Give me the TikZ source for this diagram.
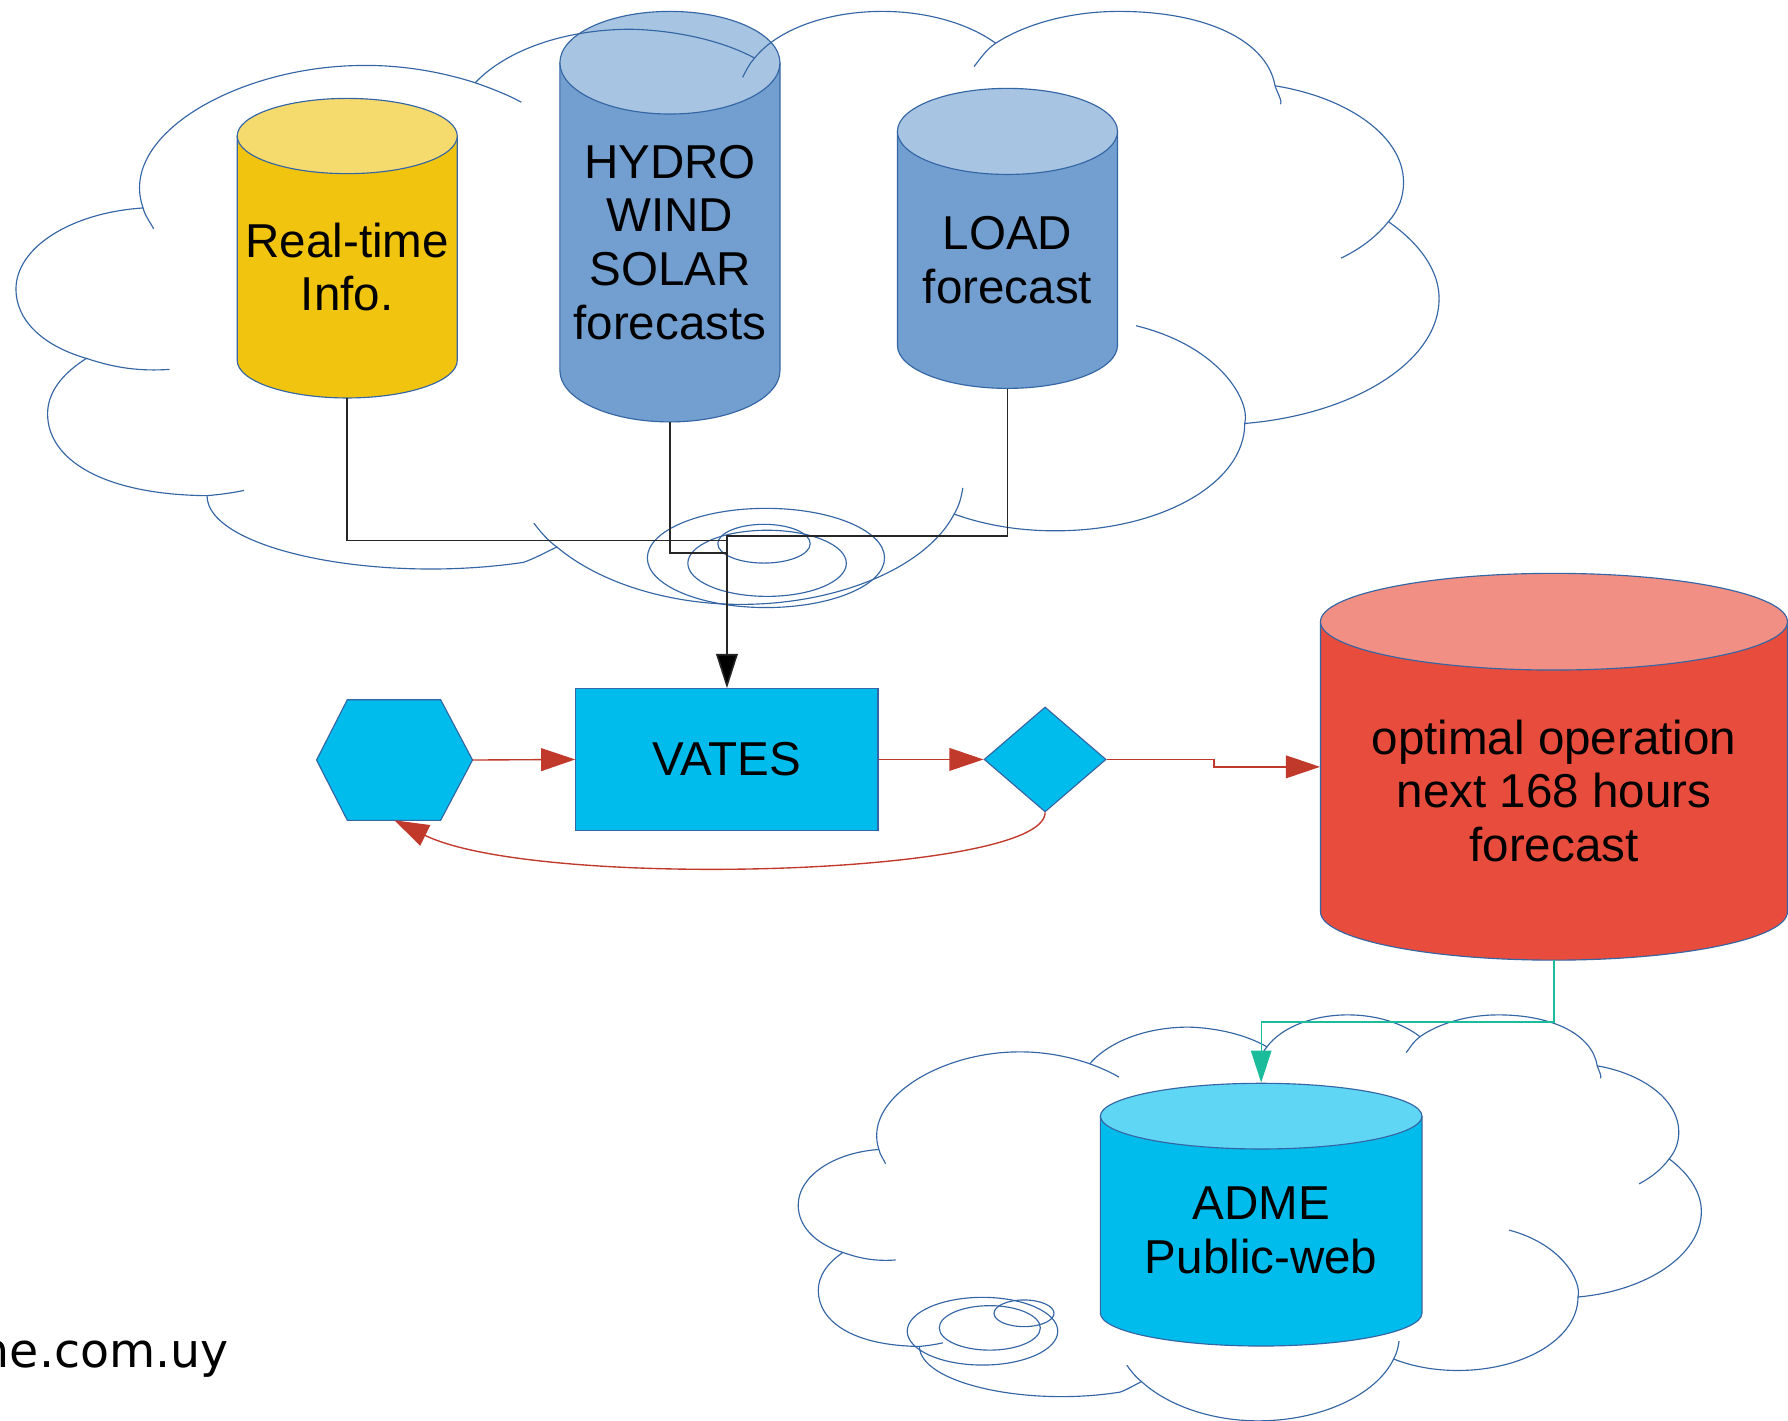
\documentclass[tikz,border=0pt]{standalone}
\usepackage{fontspec}
\setmainfont{Liberation Sans}
\newfontfamily\dejavu{DejaVu Sans}
\usetikzlibrary{arrows.meta,calc,shapes.geometric}
\definecolor{outl}{RGB}{52,101,164}
\definecolor{ylw}{RGB}{241,196,15}
\definecolor{ylwtop}{RGB}{245,218,110}
\definecolor{blu}{RGB}{114,159,207}
\definecolor{blutop}{RGB}{167,196,226}
\definecolor{redbody}{RGB}{231,76,60}
\definecolor{redtop}{RGB}{241,143,132}
\definecolor{cyn}{RGB}{0,188,236}
\definecolor{cyntop}{RGB}{96,214,245}
\definecolor{arrred}{RGB}{192,57,43}
\definecolor{tealc}{RGB}{26,188,156}

% #1 left x, #2 right x, #3 top y, #4 bottom y, #5 ry, #6 body colour, #7 top colour
\newcommand\drawcyl[7]{%
  \pgfmathsetmacro\cylrx{(#2-#1)*0.25}%
  \pgfmathsetmacro\cylry{#5*0.5}%
  \pgfmathsetmacro\cylcx{(#1+#2)/2}%
  \filldraw[fill=#6,draw=outl,line width=0.5pt] (#1,#3+#5) -- (#1,#4-#5)
     arc[start angle=180,end angle=360,x radius=\cylrx pt,y radius=\cylry pt] -- (#2,#3+#5);
  \filldraw[fill=#7,draw=outl,line width=0.5pt] (\cylcx,#3+#5) ellipse[x radius=\cylrx pt,y radius=\cylry pt];
}

\newcommand\cloudshape{%
  \draw[cloudln] (193,716)
   .. controls (153,449) and (340,197) .. (527,197)
   .. controls (586,195) and (647,221) .. (697,260)
   .. controls (745,139) and (834,65) .. (934,65)
   .. controls (1000,69) and (1071,105) .. (1121,170)
   .. controls (1157,63) and (1233,0) .. (1315,0)
   .. controls (1384,0) and (1447,46) .. (1487,116)
   .. controls (1533,44) and (1602,0) .. (1674,0)
   .. controls (1806,0) and (1899,106) .. (1911,271)
   .. controls (2024,315) and (2106,458) .. (2106,622)
   .. controls (2106,672) and (2100,720) .. (2083,766)
   .. controls (2131,846) and (2160,945) .. (2160,1046)
   .. controls (2160,1275) and (2031,1468) .. (1865,1501)
   .. controls (1865,1720) and (1737,1892) .. (1577,1892)
   .. controls (1522,1892) and (1470,1871) .. (1424,1831)
   .. controls (1382,2024) and (1249,2160) .. (1100,2160)
   .. controls (989,2160) and (884,2079) .. (821,1951)
   .. controls (804,1970) and (788,1992) .. (770,2007)
   .. controls (545,2087) and (290,1958) .. (290,1764)
   .. controls (130,1760) and (48,1630) .. (48,1466)
   .. controls (48,1390) and (69,1321) .. (107,1264)
   .. controls (38,1216) and (0,1121) .. (0,1012)
   .. controls (0,859) and (84,733) .. (193,716);
  \draw[cloudln] (193,716) .. controls (195,741) and (204,769) .. (209,792)
   (697,260) .. controls (720,279) and (748,305) .. (767,331)
   (1121,170) .. controls (1113,191) and (1108,216) .. (1103,240)
   (1487,116) .. controls (1472,140) and (1464,172) .. (1454,201)
   (1911,271) .. controls (1913,289) and (1923,329) .. (1919,338)
   (2083,766) .. controls (2066,817) and (2043,862) .. (2011,899)
   (1865,1501) .. controls (1874,1420) and (1828,1220) .. (1700,1145)
   (1424,1831) .. controls (1432,1798) and (1435,1768) .. (1437,1736)
   (821,1951) .. controls (806,1925) and (796,1895) .. (786,1864)
   (290,1764) .. controls (309,1760) and (328,1754) .. (346,1745)
   (107,1264) .. controls (140,1290) and (178,1313) .. (233,1304);
}

\tikzset{
  cloudln/.style={draw=outl,line width=0.5pt},
  blkln/.style={draw=black!85,line width=0.7pt},
  redln/.style={draw=arrred,line width=0.6pt,-{Triangle[length=15pt,width=10pt]}},
  tealln/.style={draw=tealc,line width=0.6pt,-{Triangle[length=14pt,width=9pt]}},
  bigtxt/.style={font=\fontsize{20.85}{23.5}\selectfont,align=center,inner sep=0pt},
  cylnode/.style={bigtxt,shape=rectangle},
}

\begin{document}
\begin{tikzpicture}[x=0.5pt,y=-0.5pt]
\fill[white] (0,0) rectangle (1568,1246);
\useasboundingbox (0,0) rectangle (1568,1246);

% cylinders
\drawcyl{208}{401}{86.3}{349}{33}{ylw}{ylwtop}
\node[cylnode,minimum width=96.5pt,minimum height=114.85pt] (rt) at (304.5,234.15) {Real-time\\Info.};
\drawcyl{491}{684}{10}{370}{45}{blu}{blutop}
\node[cylnode,minimum width=96.5pt,minimum height=157.5pt] (hy) at (587.5,212.5) {HYDRO\\WIND\\SOLAR\\forecasts};
\drawcyl{787}{980}{77.5}{340.6}{37.75}{blu}{blutop}
\node[cylnode,minimum width=96.5pt,minimum height=112.7pt] (ld) at (883.5,227.9) {LOAD\\forecast};
\drawcyl{1158}{1567.5}{502.8}{842}{42.4}{redbody}{redtop}
\node[cylnode,minimum width=204.75pt,minimum height=148.2pt] (redc) at (1362.75,693.6) {optimal operation\\next 168 hours\\forecast};
\drawcyl{965}{1247}{950}{1180.4}{28.8}{cyn}{cyntop}
\node[cylnode,minimum width=141pt,minimum height=100.7pt] (adme) at (1106,1079.2) {ADME\\Public-web};

% clouds
\begin{scope}[shift={(14,10)},x=0.288889pt,y=-0.120370pt]
  \cloudshape
\end{scope}
\begin{scope}[shift={(700,890)},x=0.183333pt,y=-0.082407pt]
  \cloudshape
\end{scope}
\draw[cloudln] (671.7,489.3) ellipse[x radius=52pt,y radius=21.75pt];
\draw[cloudln] (672.7,494) ellipse[x radius=34.75pt,y radius=14.5pt];
\draw[cloudln] (670,476.8) ellipse[x radius=20.25pt,y radius=8.5pt];
\draw[cloudln] (861.6,1167.4) ellipse[x radius=33pt,y radius=14.85pt];
\draw[cloudln] (868,1164.5) ellipse[x radius=22.15pt,y radius=9.75pt];
\draw[cloudln] (898,1151.7) ellipse[x radius=13.15pt,y radius=5.85pt];

% process shapes
\node[draw=outl,fill=cyn,line width=0.5pt,minimum width=132.5pt,minimum height=62pt,inner sep=0pt,
      font=\fontsize{20.85}{23.5}\selectfont] (vates) at (637.5,666) {VATES};
\node[minimum width=68pt,minimum height=52.5pt,inner sep=0pt] (hex) at (346,666.5) {};
\filldraw[fill=cyn,draw=outl,line width=0.5pt] (hex.west) -- ($(hex.north west)+(27,0)$)
  -- ($(hex.north east)+(-28,0)$) -- (hex.east) -- ($(hex.south east)+(-28,0)$)
  -- ($(hex.south west)+(27,0)$) -- cycle;
\node[diamond,draw=outl,fill=cyn,line width=0.5pt,minimum width=53.5pt,minimum height=46pt,inner sep=0pt] (dia) at (916.5,666) {};

% connectors
\coordinate (jn) at (637.5,470);
\draw[blkln] (rt.south) |- ([yshift=-2pt]jn);
\draw[blkln] (hy.south) |- ([yshift=-7.5pt]jn);
\draw[blkln,-{Triangle[length=15pt,width=9.5pt,fill=black]}] (ld.south) |- (jn) -- (vates.north);

\draw[redln] (hex.east) -- (vates.west);
\draw[redln] (vates.east) -- (dia.west);
\draw[redln] (dia.east) -- ++(94,0) |- ([yshift=10.55pt]redc.west);
\draw[redln] (dia.south) .. controls +(0,56) and +(124,61) .. (hex.south);

\draw[tealln] (redc.south) -- ++(0,54) -| ([yshift=14.4pt]adme.north);

\node[anchor=base east,inner sep=0pt,font=\dejavu\fontsize{20.8}{24}\selectfont] (url) at (201,1199) {ne.com.uy};
\end{tikzpicture}
\end{document}
